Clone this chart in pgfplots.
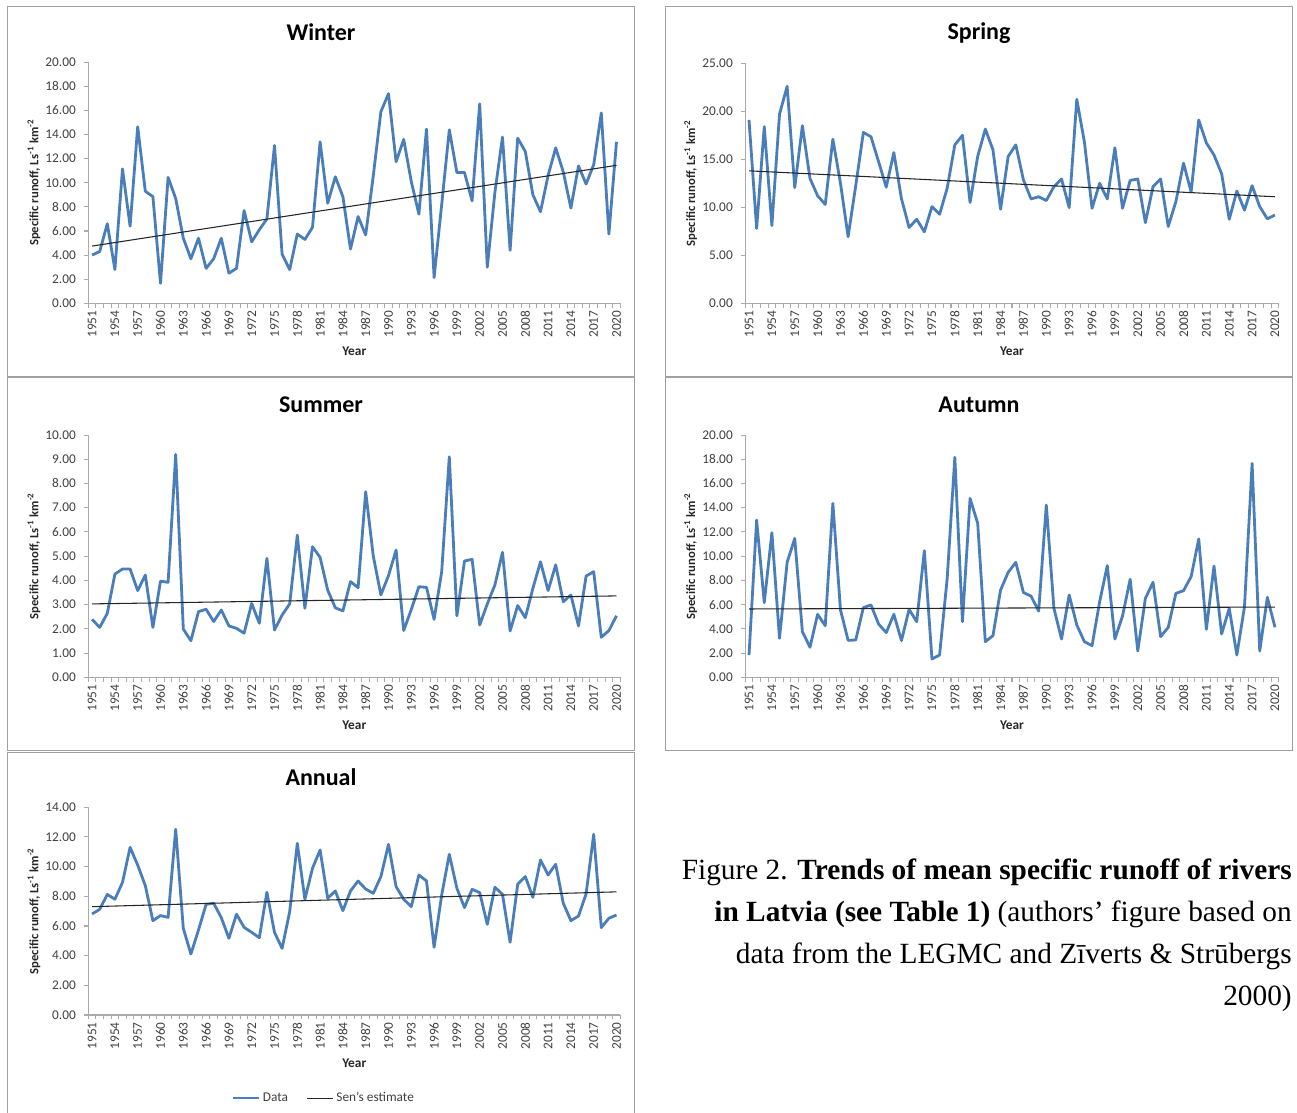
\documentclass[border=0pt]{standalone}
\usepackage{pgfplots}
\pgfplotsset{compat=1.18}
\usepackage{pgfplotstable}
\usepackage{fontspec}
\setmainfont{Carlito}
\newfontfamily\capfont{Liberation Serif}
\definecolor{dblue}{RGB}{74,126,187}
\definecolor{axgray}{RGB}{170,170,170}
\definecolor{txgray}{RGB}{64,64,64}
\definecolor{frgray}{RGB}{160,160,160}

\pgfplotstableread{
year val
1951 4.0
1952 4.3
1953 6.6
1954 2.8
1955 11.15
1956 6.4
1957 14.65
1958 9.3
1959 8.85
1960 1.66
1961 10.45
1962 8.7
1963 5.4
1964 3.7
1965 5.4
1966 2.9
1967 3.7
1968 5.4
1969 2.5
1970 2.9
1971 7.7
1972 5.1
1973 6.1
1974 7.0
1975 13.1
1976 4.07
1977 2.8
1978 5.75
1979 5.3
1980 6.3
1981 13.4
1982 8.3
1983 10.5
1984 8.85
1985 4.5
1986 7.2
1987 5.67
1988 10.6
1989 15.9
1990 17.4
1991 11.75
1992 13.6
1993 10.1
1994 7.4
1995 14.45
1996 2.13
1997 8.2
1998 14.4
1999 10.85
2000 10.85
2001 8.5
2002 16.55
2003 3.0
2004 9.2
2005 13.8
2006 4.4
2007 13.7
2008 12.6
2009 9.0
2010 7.6
2011 10.6
2012 12.9
2013 10.9
2014 7.9
2015 11.4
2016 9.9
2017 11.5
2018 15.8
2019 5.75
2020 13.4
}\winter

\pgfplotstableread{
year val
1951 19.1
1952 7.8
1953 18.4
1954 8.1
1955 19.7
1956 22.6
1957 12.05
1958 18.5
1959 13.0
1960 11.2
1961 10.3
1962 17.1
1963 12.5
1964 6.94
1965 12.25
1966 17.8
1967 17.35
1968 14.75
1969 12.1
1970 15.7
1971 10.9
1972 7.9
1973 8.75
1974 7.45
1975 10.07
1976 9.27
1977 12.0
1978 16.5
1979 17.5
1980 10.5
1981 15.3
1982 18.15
1983 16.0
1984 9.8
1985 15.3
1986 16.5
1987 12.85
1988 10.87
1989 11.1
1990 10.7
1991 12.15
1992 12.95
1993 9.97
1994 21.25
1995 16.8
1996 9.9
1997 12.5
1998 10.87
1999 16.2
2000 9.9
2001 12.8
2002 12.95
2003 8.4
2004 12.15
2005 12.95
2006 8.0
2007 10.6
2008 14.6
2009 11.6
2010 19.1
2011 16.7
2012 15.45
2013 13.5
2014 8.75
2015 11.7
2016 9.7
2017 12.25
2018 10.07
2019 8.8
2020 9.2
}\spring

\pgfplotstableread{
year val
1951 2.39
1952 2.06
1953 2.64
1954 4.26
1955 4.47
1956 4.47
1957 3.58
1958 4.22
1959 2.06
1960 3.97
1961 3.92
1962 9.2
1963 1.99
1964 1.51
1965 2.71
1966 2.81
1967 2.3
1968 2.78
1969 2.12
1970 2.02
1971 1.82
1972 3.05
1973 2.23
1974 4.91
1975 1.95
1976 2.57
1977 3.03
1978 5.87
1979 2.85
1980 5.39
1981 4.95
1982 3.6
1983 2.87
1984 2.74
1985 3.95
1986 3.7
1987 7.66
1988 5.0
1989 3.4
1990 4.2
1991 5.25
1992 1.93
1993 2.8
1994 3.74
1995 3.71
1996 2.39
1997 4.36
1998 9.1
1999 2.54
2000 4.8
2001 4.87
2002 2.16
2003 3.03
2004 3.81
2005 5.16
2006 1.91
2007 2.96
2008 2.46
2009 3.67
2010 4.77
2011 3.58
2012 4.64
2013 3.12
2014 3.4
2015 2.12
2016 4.18
2017 4.36
2018 1.65
2019 1.93
2020 2.54
}\summer

\pgfplotstableread{
year val
1951 1.84
1952 12.98
1953 6.16
1954 11.94
1955 3.22
1956 9.49
1957 11.47
1958 3.77
1959 2.48
1960 5.2
1961 4.26
1962 14.36
1963 5.56
1964 3.05
1965 3.08
1966 5.75
1967 5.97
1968 4.4
1969 3.69
1970 5.2
1971 3.03
1972 5.61
1973 4.59
1974 10.45
1975 1.51
1976 1.84
1977 8.17
1978 18.16
1979 4.59
1980 14.77
1981 12.71
1982 2.94
1983 3.44
1984 7.2
1985 8.67
1986 9.49
1987 7.0
1988 6.7
1989 5.47
1990 14.22
1991 5.69
1992 3.16
1993 6.8
1994 4.32
1995 2.94
1996 2.61
1997 6.24
1998 9.22
1999 3.16
2000 5.06
2001 8.09
2002 2.17
2003 6.52
2004 7.84
2005 3.36
2006 4.13
2007 6.93
2008 7.15
2009 8.31
2010 11.42
2011 3.96
2012 9.19
2013 3.58
2014 5.69
2015 1.84
2016 5.83
2017 17.66
2018 2.17
2019 6.6
2020 4.13
}\autumn

\pgfplotstableread{
year val
1951 6.81
1952 7.12
1953 8.13
1954 7.8
1955 8.94
1956 11.3
1957 10.1
1958 8.72
1959 6.36
1960 6.7
1961 6.58
1962 12.52
1963 5.84
1964 4.11
1965 5.73
1966 7.46
1967 7.53
1968 6.56
1969 5.17
1970 6.79
1971 5.91
1972 5.57
1973 5.21
1974 8.27
1975 5.57
1976 4.49
1977 6.97
1978 11.57
1979 7.8
1980 9.89
1981 11.12
1982 7.87
1983 8.36
1984 7.03
1985 8.36
1986 9.03
1987 8.49
1988 8.2
1989 9.33
1990 11.5
1991 8.65
1992 7.8
1993 7.3
1994 9.44
1995 9.03
1996 4.56
1997 8.09
1998 10.83
1999 8.54
2000 7.24
2001 8.47
2002 8.25
2003 6.11
2004 8.61
2005 8.13
2006 4.9
2007 8.81
2008 9.33
2009 7.93
2010 10.45
2011 9.44
2012 10.16
2013 7.53
2014 6.36
2015 6.67
2016 8.16
2017 12.18
2018 5.89
2019 6.52
2020 6.74
}\annual

\pgfplotsset{
  panel/.style={
    scale only axis,
    axis lines=left,
    axis line style={draw=axgray, line width=0.8pt, -},
    xmin=1950.5, xmax=2020.5, ymin=0,
    xtick={1951,1954,...,2020},
    minor xtick={1950.5,1951.5,...,2020.5},
    major x tick style={draw=none},
    minor x tick style={draw=axgray, line width=0.8pt},
    y tick style={draw=axgray, line width=0.8pt},
    tick align=outside,
    major tick length=3.3pt, minor tick length=3.3pt,
    scaled x ticks=false, scaled y ticks=false,
    /pgf/number format/assume math mode=true,
    xticklabel style={rotate=90, anchor=east, font=\fontsize{10}{12}\selectfont, text=txgray, inner sep=2pt, /pgf/number format/1000 sep={}},
    yticklabel style={xshift=-2.5pt, font=\fontsize{10}{12}\selectfont, text=txgray, /pgf/number format/.cd, fixed, fixed zerofill, precision=2},
    xlabel={Year},
    ylabel={Specific runoff, Ls\textsuperscript{-1} km\textsuperscript{-2}},
    xlabel style={at={(axis description cs:0.5,0)}, anchor=center, yshift=-35.8pt, font=\bfseries\fontsize{10}{12}\selectfont, text=txgray!60!black},
    ylabel style={at={(axis description cs:-0.102,0.5)}, anchor=center, rotate=0, font=\bfseries\fontsize{9.5}{11}\selectfont, text=txgray!60!black},
    every axis plot/.append style={line join=round},
  },
  data/.style={draw=dblue, line width=2.1pt},
  sen/.style={draw=black!85, line width=0.8pt},
}

\begin{document}
\begin{tikzpicture}
\path[use as bounding box] (0,0) rectangle (972.75pt,-834.75pt);
% panel frames
\draw[frgray, line width=0.75pt] ({7*0.75pt},{-7*0.75pt}) rectangle ({634*0.75pt},{-376*0.75pt});
\draw[frgray, line width=0.75pt] ({665*0.75pt},{-7*0.75pt}) rectangle ({1292*0.75pt},{-376*0.75pt});
\draw[frgray, line width=0.75pt] ({7*0.75pt},{-377*0.75pt}) rectangle ({634*0.75pt},{-750*0.75pt});
\draw[frgray, line width=0.75pt] ({665*0.75pt},{-377*0.75pt}) rectangle ({1292*0.75pt},{-750*0.75pt});
\draw[frgray, line width=0.75pt] ({7*0.75pt},{-1113*0.75pt}) -- ({7*0.75pt},{-752*0.75pt}) -- ({634*0.75pt},{-752*0.75pt}) -- ({634*0.75pt},{-1113*0.75pt});

% titles
\node[font=\bfseries\fontsize{18}{20}\selectfont] at ({321*0.75pt},{-32*0.75pt}) {Winter};
\node[font=\bfseries\fontsize{18}{20}\selectfont] at ({979*0.75pt},{-33*0.75pt}) {Spring};
\node[font=\bfseries\fontsize{18}{20}\selectfont] at ({321*0.75pt},{-405*0.75pt}) {Summer};
\node[font=\bfseries\fontsize{18}{20}\selectfont] at ({979*0.75pt},{-405*0.75pt}) {Autumn};
\node[font=\bfseries\fontsize{18}{20}\selectfont] at ({321*0.75pt},{-777*0.75pt}) {Annual};

% Winter
\begin{axis}[panel, at={({88.3*0.75pt},{-303.3*0.75pt})}, anchor=south west,
  width=399pt, height=180.75pt, ymax=20, ytick={0,2,...,20}]
\addplot[data] table[x=year,y=val] {\winter};
\addplot[sen] coordinates {(1951,4.75) (2020,11.45)};
\end{axis}

% Spring
\begin{axis}[panel, at={({745.2*0.75pt},{-303.3*0.75pt})}, anchor=south west,
  width=400.2pt, height=180pt, ymax=25, ytick={0,5,...,25}]
\addplot[data] table[x=year,y=val] {\spring};
\addplot[sen] coordinates {(1951,13.8) (2020,11.1)};
\end{axis}

% Summer
\begin{axis}[panel, at={({88.3*0.75pt},{-677.3*0.75pt})}, anchor=south west,
  width=399pt, height=181.7pt, ymax=10, ytick={0,1,...,10}]
\addplot[data] table[x=year,y=val] {\summer};
\addplot[sen] coordinates {(1951,3.03) (2020,3.36)};
\end{axis}

% Autumn
\begin{axis}[panel, at={({745.2*0.75pt},{-677.3*0.75pt})}, anchor=south west,
  width=400.2pt, height=181.7pt, ymax=20, ytick={0,2,...,20}]
\addplot[data] table[x=year,y=val] {\autumn};
\addplot[sen] coordinates {(1951,5.64) (2020,5.8)};
\end{axis}

% Annual
\begin{axis}[panel, at={({88.3*0.75pt},{-1015*0.75pt})}, anchor=south west,
  width=399pt, height=155.8pt, ymax=14, ytick={0,2,...,14},
  legend columns=2,
  legend style={at={(axis description cs:0.443,0)}, anchor=center, yshift=-62.3pt, draw=none, fill=none,
    font=\fontsize{10}{12}\selectfont, text=txgray, /tikz/every even column/.append style={column sep=12pt}},
  legend image code/.code={\draw[#1] (0pt,0pt) -- (19.5pt,0pt);}]
\addplot[data] table[x=year,y=val] {\annual};
\addlegendentry{Data}
\addplot[sen] coordinates {(1951,7.3) (2020,8.3)};
\addlegendentry{Sen's estimate}
\end{axis}

% caption
\begin{scope}[every node/.style={inner sep=0pt, font=\capfont\fontsize{22}{26}\selectfont}]
\node[anchor=base east] at ({1292*0.75pt},{-879*0.75pt}) {Figure 2. \textbf{Trends of mean specific runoff of rivers}};
\node[anchor=base east] at ({1292*0.75pt},{-921*0.75pt}) {\textbf{in Latvia (see Table 1)} (authors’ figure based on};
\node[anchor=base east] at ({1292*0.75pt},{-963*0.75pt}) {data from the LEGMC and Zīverts \& Strūbergs};
\node[anchor=base east] at ({1292*0.75pt},{-1005*0.75pt}) {2000)};
\end{scope}
\end{tikzpicture}
\end{document}
